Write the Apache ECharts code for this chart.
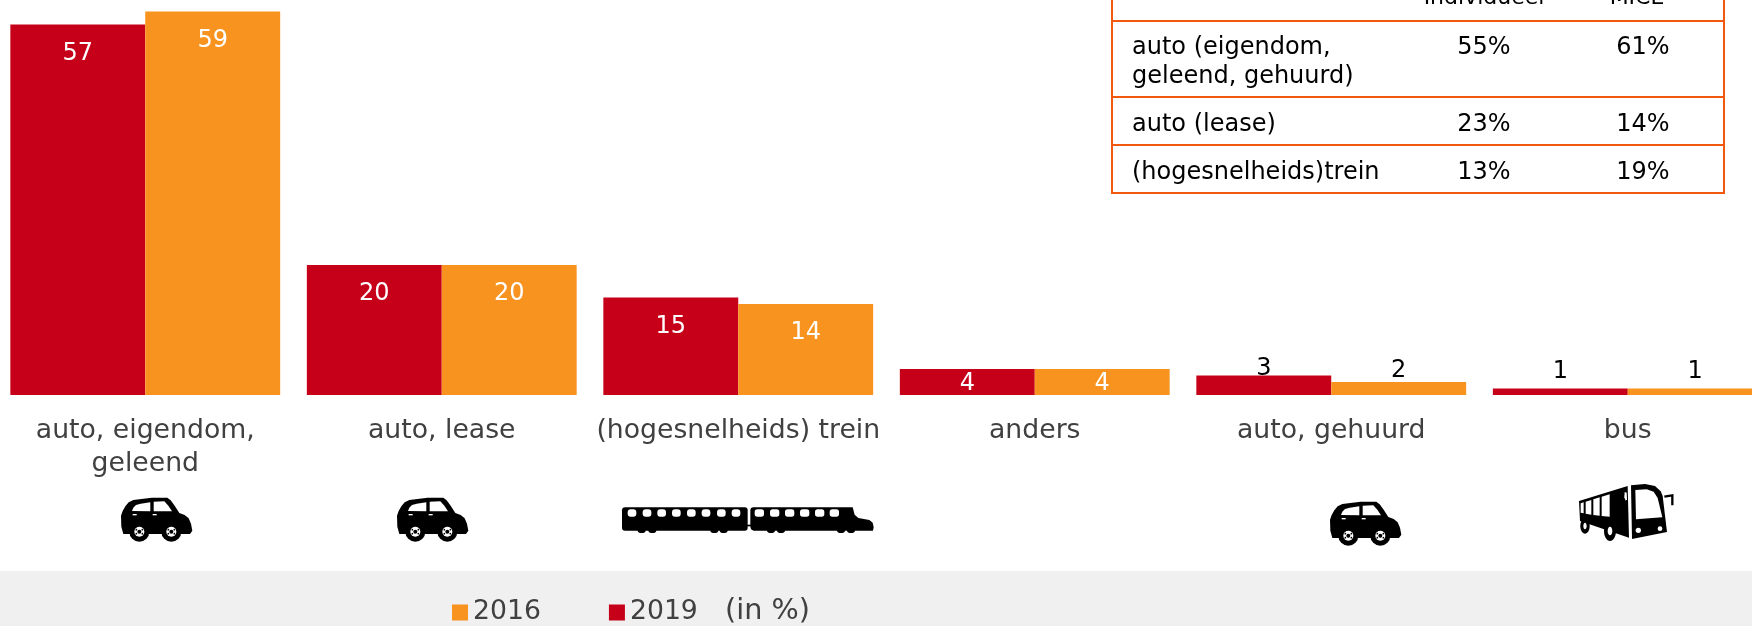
<!DOCTYPE html>
<html><head><meta charset="utf-8">
<style>html,body{margin:0;padding:0;background:#fff;overflow:hidden}#c{width:1752px;height:626px}</style>
<script src="https://cdn.jsdelivr.net/npm/echarts@6/dist/echarts.min.js"></script>
</head><body><div id="c"></div>
<script>
const categories = ['auto, eigendom,\ngeleend','auto, lease','(hogesnelheids) trein','anders','auto, gehuurd','bus'];
const values2019 = [57,20,15,4,3,1];
const values2016 = [59,20,14,4,2,1];
const tableHeader = ['Individueel','MICE'];
const tableRows = [
  ['auto (eigendom,\ngeleend, gehuurd)','55%','61%'],
  ['auto (lease)','23%','14%'],
  ['(hogesnelheids)trein','13%','19%']
];
const FONT = '"DejaVu Sans", Verdana, sans-serif';
const RED = '#c50018', ORANGE = '#f7931e', LINE = '#f2590f';

function labelFor(v, idx, small) {
  if (v >= 10) return {show:true, position:'insideTop', distance:17, color:'#fff'};
  if (v >= 4) return {show:true, position:'inside', offset:[0,2], color:'#fff'};
  return {show:true, position:'top', distance:small[idx], color:'#000'};
}
function seriesData(vals, small) {
  return vals.map((v,i)=>({value:v, label:labelFor(v,i,small)}));
}

// ---- table ----
function T(x,y,text,opt){return {type:'text',x,y,style:Object.assign({text,font:'24px '+FONT,fill:'#000',textVerticalAlign:'middle',textAlign:'left',lineHeight:29},opt||{})};}
function L(x1,y1,x2,y2){return {type:'line',shape:{x1,y1,x2,y2},style:{stroke:LINE,lineWidth:2}};}
const rowY=[62,125,173];
const tableEls=[
  L(1112,0,1112,194),L(1724,0,1724,194),L(1111,21,1725,21),L(1111,97,1725,97),L(1111,145,1725,145),L(1111,193,1725,193),
  T(1484,-2,tableHeader[0],{textAlign:'center',font:'22px '+FONT}),T(1637,-2,tableHeader[1],{textAlign:'center',font:'22px '+FONT})
];
tableRows.forEach((r,i)=>{
  tableEls.push(T(1132,rowY[i],r[0]));
  const vy = i===0?48:rowY[i];
  tableEls.push(T(1484,vy,r[1],{textAlign:'center'}));
  tableEls.push(T(1643,vy,r[2],{textAlign:'center'}));
});

// ---- icons (drawn in 3x local units) ----
const B={fill:'#000'},W={fill:'#fff'};
const P=(points,style)=>({type:'polygon',shape:{points},style});
const C=(cx,cy,r,style)=>({type:'circle',shape:{cx,cy,r},style});
const E=(cx,cy,rx,ry,style)=>({type:'ellipse',shape:{cx,cy,rx,ry},style});
const R=(x,y,width,height,r,style)=>({type:'rect',shape:{x,y,width,height,r},style});
function wheel(x,y){return [C(x,y,30,B),C(x,y,15,W),C(x,y,6,B),C(x-9,y-6,2.5,B),C(x+9,y-6,2.5,B),C(x-9,y+6,2.5,B),C(x+9,y+6,2.5,B)];}
function car(px,py){return {type:'group',x:px,y:py,scaleX:1/3,scaleY:1/3,children:[
  P([[33,92],[38,78],[46,64],[56,52],[70,45],[125,38],[172,38],[182,46],[194,62],[208,84],[224,90],[236,100],[243,116],[247,137],[240,147],[40,147],[34,125]],B),
  P([[66,78],[70,68],[78,60],[92,56],[121,52],[121,79]],W),
  P([[131,50],[163,49],[175,62],[186,79],[131,79]],W),
  R(68,87,12,4,0,W),R(128,87,12,4,0,W),
  ...wheel(88,140),...wheel(184,140)
]};}
function bus(px,py){return {type:'group',x:px,y:py,scaleX:1/3,scaleY:1/3,children:[
  P([[42,75],[188,30],[192,185],[45,135]],B),
  P([[47,82],[56,79],[56,112],[47,110]],W),P([[62,77],[79,72],[79,116],[62,113]],W),
  P([[85,70],[104,64],[104,119],[85,117]],W),P([[110,62],[134,55],[134,122],[110,120]],W),
  P([[179,48],[185,50],[186,70],[182,74],[178,64]],W),
  P([[198,28],[240,24],[270,30],[287,46],[293,60],[306,168],[201,189]],B),
  P([[211,42],[245,40],[266,47],[278,66],[292,124],[213,130]],W),
  C(220,163,8,W),C(285,158,7,W),
  E(60,150,14,23,B),E(60,150,5,10,W),
  E(135,165,18,30,B),E(135,165,7,13,W),
  {type:'polyline',shape:{points:[[298,62],[322,58],[322,88]]},style:{stroke:'#000',lineWidth:7,fill:null}}
]};}
function train(px,py){
  const win=[63,108,152,196,241,285,331,375].map(x=>R(x-13,46,26,22,9,W));
  const win2=[445,491,536,581,626,670].map(x=>R(x-14,46,28,22,8,W));
  const wh=[92,124,310,338,480,510,690,720].map(x=>E(x,110,12,7,B));
  return {type:'group',x:px,y:py,scaleX:1/3,scaleY:1/3,children:[
    ...wh,
    R(33,40,377,70,9,B),
    R(405,92,20,5,0,B),
    P([[426,40],[725,40],[731,62],[742,72],[775,78],[785,86],[788,100],[786,110],[428,110],[420,106],[418,98],[418,48],[420,42]],B),
    ...win,...win2
  ]};
}

const chart = echarts.init(document.getElementById('c'),null,{renderer:'canvas'});
chart.setOption({
  animation:false,
  backgroundColor:'#fff',
  textStyle:{fontFamily:FONT},
  grid:{left:-3,width:1779,top:5,height:390,containLabel:false,outerBoundsMode:'none'},
  xAxis:{type:'category',data:categories,
    axisLine:{show:false},axisTick:{show:false},
    axisLabel:{interval:0,color:'#404040',fontSize:26.7,fontFamily:FONT,margin:20,lineHeight:33,verticalAlign:'top',hideOverlap:false}},
  yAxis:{type:'value',min:0,max:60,show:false,splitLine:{show:false}},
  legend:{left:447,top:594,itemWidth:16,itemHeight:16,itemGap:68,icon:'rect',
    data:['2016','2019'],selectedMode:false,
    textStyle:{color:'#404040',fontSize:26.7,fontFamily:FONT}},
  series:[
    {name:'2019',type:'bar',barGap:0,barCategoryGap:'9%',itemStyle:{color:RED},
     label:{fontSize:24,fontFamily:FONT},data:seriesData(values2019,[0,0,0,0,-5,5])},
    {name:'2016',type:'bar',itemStyle:{color:ORANGE},
     label:{fontSize:24,fontFamily:FONT},data:seriesData(values2016,[0,0,0,0,-1,5])}
  ],
  graphic:[
    {type:'rect',z:-10,shape:{x:0,y:571,width:1752,height:55},style:{fill:'#f0f0f0'}},
    {type:'text',x:725,y:612,z:5,style:{text:'(in %)',font:'28.7px '+FONT,fill:'#404040',textVerticalAlign:'middle'}},
    ...tableEls,
    car(110,485),car(386,485),car(1319,489),
    train(611,494),
    bus(1565,476)
  ]
});
</script></body></html>
